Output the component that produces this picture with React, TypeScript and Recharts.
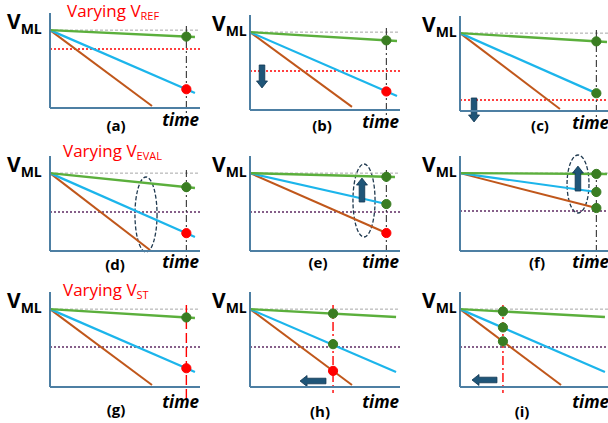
import React from 'react';
import { ComposedChart, Line, XAxis, YAxis, ReferenceLine, ReferenceDot, ReferenceArea } from 'recharts';

type Pt = { t: number; v: number };

// every trace starts at the precharged level at t = 0
const START: Pt = { t: 0, v: 1 };

const panelNames = ['(a)', '(b)', '(c)', '(d)', '(e)', '(f)', '(g)', '(h)', '(i)'];
const rowTitles = ['REF', 'EVAL', 'ST'];

// end point of each discharge line, per panel
const greenEnd: Pt[] = [
  { t: 1.063, v: 0.912 }, { t: 1.078, v: 0.886 }, { t: 1.078, v: 0.886 },
  { t: 1.063, v: 0.809 }, { t: 1.063, v: 0.95 }, { t: 1.078, v: 0.989 },
  { t: 1.063, v: 0.886 }, { t: 1.071, v: 0.899 }, { t: 1.063, v: 0.899 },
];
const blueEnd: Pt[] = [
  { t: 1.063, v: 0.193 }, { t: 1.078, v: 0.18 }, { t: 1.01, v: 0.22 },
  { t: 1.063, v: 0.18 }, { t: 1.0, v: 0.603 }, { t: 1.0, v: 0.758 },
  { t: 1.063, v: 0.193 }, { t: 1.071, v: 0.193 }, { t: 1.063, v: 0.193 },
];
const orangeEnd: Pt[] = [
  { t: 0.748, v: 0.026 }, { t: 0.748, v: 0.04 }, { t: 0.733, v: 0.026 },
  { t: 0.733, v: 0.013 }, { t: 1.0, v: 0.231 }, { t: 1.0, v: 0.552 },
  { t: 0.748, v: 0.026 }, { t: 0.748, v: 0.026 }, { t: 0.741, v: 0.026 },
];

// sense reference level (dotted line)
const refLevel = [0.758, 0.5, 0.141, 0.5, 0.5, 0.514, 0.514, 0.514, 0.514];

// sampling instant and the sampled values, top to bottom
const sampleTime = [1, 1, 1, 1, 1, 1, 1, 0.609, 0.315];
const sampleValues = [
  [0.917, 0.241], [0.894, 0.238], [0.894, 0.228],
  [0.82, 0.229], [0.953, 0.603, 0.231], [0.99, 0.758, 0.552],
  [0.893, 0.241], [0.943, 0.55, 0.207], [0.97, 0.765, 0.586],
];
const samplePass = [
  [true, false], [true, false], [true, true],
  [true, false], [true, true, false], [true, true, true],
  [true, false], [true, true, false], [true, true, true],
];
const sampleSpan = [
  [1.053, -0.141], [1.053, -0.141], [1.04, -0.128],
  [1.04, -0.141], [1.04, -0.141], [1.04, -0.141],
  [1.053, -0.141], [1.053, -0.077], [1.053, -0.077],
];

// shift arrows and highlight ellipses
const arrows: ([Pt, Pt] | null)[] = [
  null, [{ t: 0.088, v: 0.578 }, { t: 0.088, v: 0.283 }], [{ t: 0.103, v: 0.167 }, { t: 0.103, v: -0.141 }],
  null, [{ t: 0.821, v: 0.629 }, { t: 0.821, v: 0.937 }], [{ t: 0.865, v: 0.77 }, { t: 0.865, v: 1.09 }],
  null, [{ t: 0.557, v: 0.077 }, { t: 0.367, v: 0.077 }], [{ t: 0.271, v: 0.09 }, { t: 0.088, v: 0.09 }],
];
const ellipses: ([number, number, number, number] | null)[] = [
  null, null, null,
  [0.623, 0.785, -0.013, 0.95], [0.755, 0.917, 0.18, 1.117], [0.785, 0.946, 0.488, 1.233],
  null, null, null,
];

// axis origin of each panel on the page
const origins = [
  [50, 108], [250, 110], [460, 111],
  [50, 251], [250, 251], [460, 251],
  [50, 387], [250, 387], [460, 387],
];
const nameOffsets = [
  [66, 23], [72, 21], [80, 20],
  [65, 19], [68, 17], [77, 17],
  [66, 28], [70, 30], [62, 30],
];

const GREEN = '#5BAF3C';
const GREEN_DOT = '#3A7D22';
const BLUE = '#1CB5EB';
const ORANGE = '#C0571B';
const RED = '#FF0000';
const AXIS = '#4D7FA3';
const FONT = '"Open Sans", "DejaVu Sans", sans-serif';

const blockArrow = (props: any) => {
  const { x1, y1, x2, y2 } = props;
  const len = Math.hypot(x2 - x1, y2 - y1);
  const ux = (x2 - x1) / len;
  const uy = (y2 - y1) / len;
  const px = -uy;
  const py = ux;
  const head = 7;
  const bw = 2.8;
  const hw = 5.5;
  const bx = x2 - ux * head;
  const by = y2 - uy * head;
  const pts = [
    [x1 + px * bw, y1 + py * bw],
    [bx + px * bw, by + py * bw],
    [bx + px * hw, by + py * hw],
    [x2, y2],
    [bx - px * hw, by - py * hw],
    [bx - px * bw, by - py * bw],
    [x1 - px * bw, y1 - py * bw],
  ].map((p) => p.join(',')).join(' ');
  return <polygon points={pts} fill="#1F5578" stroke="#0F3550" strokeWidth={0.8} />;
};

const ellipseShape = (props: any) => {
  const { x, y, width, height } = props;
  return (
    <ellipse
      cx={x + width / 2}
      cy={y + height / 2}
      rx={width / 2}
      ry={height / 2}
      fill="none"
      stroke="#203A50"
      strokeWidth={1.3}
      strokeDasharray="4 2"
    />
  );
};

const Panel: React.FC<{ i: number }> = ({ i }) => {
  const [ox, oy] = origins[i];
  const row = Math.floor(i / 3);
  const refColor = row === 0 ? RED : '#5E2B63';
  const probeColor = row === 2 ? RED : '#333333';
  const probeDash = i === 6 ? '10 4' : row === 2 ? '9 3 2 3' : '7 3 2 3';
  const arrow = arrows[i];
  const ell = ellipses[i];
  return (
    <div style={{ position: 'absolute', left: ox - 50, top: oy - 125, width: 215, height: 155 }}>
      <ComposedChart width={215} height={155} margin={{ top: 30, right: 15, bottom: 29, left: 49 }}>
        <XAxis
          type="number"
          dataKey="t"
          domain={[0, 1.1]}
          tick={false}
          tickLine={false}
          height={1}
          axisLine={{ stroke: AXIS, strokeWidth: 2 }}
        />
        <YAxis
          type="number"
          dataKey="v"
          domain={[0, 1.22]}
          tick={false}
          tickLine={false}
          width={1}
          axisLine={{ stroke: AXIS, strokeWidth: 2 }}
        />
        <ReferenceLine y={START.v} stroke="#A6A6A6" strokeDasharray="3 2" strokeWidth={1} />
        <ReferenceLine y={refLevel[i]} stroke={refColor} strokeDasharray="2 2" strokeWidth={1.5} />
        <ReferenceLine
          segment={[{ x: sampleTime[i], y: sampleSpan[i][0] }, { x: sampleTime[i], y: sampleSpan[i][1] }]}
          stroke={probeColor}
          strokeWidth={row === 2 ? 1.4 : 1.1}
          strokeDasharray={probeDash}
          ifOverflow="visible"
        />
        <Line data={[START, orangeEnd[i]]} dataKey="v" stroke={ORANGE} strokeWidth={2} dot={false} isAnimationActive={false} type="linear" />
        <Line data={[START, blueEnd[i]]} dataKey="v" stroke={BLUE} strokeWidth={2.2} dot={false} isAnimationActive={false} type="linear" />
        <Line data={[START, greenEnd[i]]} dataKey="v" stroke={GREEN} strokeWidth={2.4} dot={false} isAnimationActive={false} type="linear" />
        {ell && (
          <ReferenceArea x1={ell[0]} x2={ell[1]} y1={ell[2]} y2={ell[3]} ifOverflow="visible" shape={ellipseShape} />
        )}
        {arrow && (
          <ReferenceLine
            segment={[{ x: arrow[0].t, y: arrow[0].v }, { x: arrow[1].t, y: arrow[1].v }]}
            ifOverflow="visible"
            shape={blockArrow}
          />
        )}
        {sampleValues[i].map((v, k) => (
          <ReferenceDot
            key={k}
            x={sampleTime[i]}
            y={v}
            r={4.6}
            fill={samplePass[i][k] ? GREEN_DOT : RED}
            stroke={samplePass[i][k] ? GREEN_DOT : RED}
            ifOverflow="visible"
          />
        ))}
      </ComposedChart>
    </div>
  );
};

const Labels: React.FC = () => (
  <svg width={608} height={423} style={{ position: 'absolute', left: 0, top: 0, pointerEvents: 'none' }}>
    {origins.map(([ox, oy], i) => {
      const col = i % 3;
      const row = Math.floor(i / 3);
      const vx = ox - (col === 0 ? 43 : 38);
      const vy = oy - 79;
      const timeDy = row === 0 ? 18 : row === 1 ? 17 : 21;
      return (
        <g key={i} fontFamily={FONT} fill="#000">
          <text x={vx} y={vy} fontSize={21} fontWeight={700}>
            V<tspan fontSize={14} dy={5}>ML</tspan>
          </text>
          <text x={ox + 149} y={oy + timeDy} fontSize={17} fontWeight={700} fontStyle="italic" textAnchor="end">
            time
          </text>
          <text x={ox + nameOffsets[i][0]} y={oy + nameOffsets[i][1]} fontSize={15} fontWeight={700} textAnchor="middle">
            {panelNames[i]}
          </text>
        </g>
      );
    })}
    {rowTitles.map((sub, r) => (
      <text key={sub} x={r === 0 ? 67 : 63} y={[17, 157, 296][r]} fontFamily={FONT} fontSize={17} fill={RED}>
        Varying V<tspan fontSize={11} dy={3}>{sub}</tspan>
      </text>
    ))}
  </svg>
);

export default function App() {
  return (
    <div style={{ position: 'absolute', left: 0, top: 0, width: 608, height: 423, overflow: 'hidden', background: '#fff' }}>
      {panelNames.map((_, i) => (
        <Panel key={i} i={i} />
      ))}
      <Labels />
    </div>
  );
}
